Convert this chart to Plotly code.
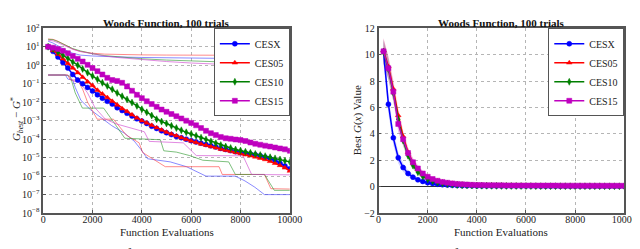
import plotly.graph_objects as go

# ---------------- data ----------------
evals = [200, 400, 600, 800, 1000, 1200, 1400, 1600, 1800, 2000,
         2200, 2400, 2600, 2800, 3000, 3200, 3400, 3600, 3800, 4000,
         4200, 4400, 4600, 4800, 5000, 5200, 5400, 5600, 5800, 6000,
         6200, 6400, 6600, 6800, 7000, 7200, 7400, 7600, 7800, 8000,
         8200, 8400, 8600, 8800, 9000, 9200, 9400, 9600, 9800, 10000]

series_names = ["CESX", "CES05", "CES10", "CES15"]

# Left panel: median of G_best - G* (log10 exponents)
cesx_median_log10 = [1.0, 0.75, 0.45, 0.15, -0.15, -0.5, -0.8, -1.0, -1.2, -1.4,
                     -1.6, -1.78, -1.95, -2.1, -2.3, -2.45, -2.6, -2.75, -2.9, -3.02,
                     -3.15, -3.3, -3.42, -3.55, -3.65, -3.75, -3.85, -3.92, -4.0, -4.08,
                     -4.15, -4.22, -4.29, -4.36, -4.42, -4.5, -4.56, -4.62, -4.68, -4.72,
                     -4.76, -4.8, -4.85, -4.9, -4.98, -5.05, -5.15, -5.3, -5.45, -5.6]
ces05_median_log10 = [1.0, 0.8, 0.6, 0.35, 0.1, -0.15, -0.4, -0.65, -0.9, -1.1,
                      -1.35, -1.55, -1.75, -1.95, -2.15, -2.35, -2.5, -2.68, -2.85, -3.0,
                      -3.12, -3.25, -3.38, -3.5, -3.62, -3.72, -3.82, -3.92, -4.02, -4.1,
                      -4.18, -4.26, -4.33, -4.4, -4.47, -4.54, -4.6, -4.66, -4.72, -4.78,
                      -4.84, -4.9, -4.96, -5.03, -5.1, -5.2, -5.3, -5.42, -5.55, -5.72]
ces10_median_log10 = [1.0, 0.88, 0.72, 0.55, 0.38, 0.18, 0.0, -0.2, -0.4, -0.58,
                      -0.76, -0.95, -1.12, -1.3, -1.5, -1.68, -1.85, -2.02, -2.2, -2.38,
                      -2.55, -2.72, -2.92, -3.05, -3.15, -3.28, -3.4, -3.52, -3.63, -3.72,
                      -3.82, -3.92, -4.02, -4.12, -4.22, -4.32, -4.4, -4.48, -4.56, -4.62,
                      -4.68, -4.74, -4.8, -4.86, -4.92, -4.98, -5.04, -5.1, -5.17, -5.23]
ces15_median_log10 = [1.0, 0.95, 0.88, 0.78, 0.65, 0.5, 0.35, 0.2, 0.02, -0.15,
                      -0.32, -0.5, -0.68, -0.8, -0.85, -0.95, -1.15, -1.38, -1.6, -1.78,
                      -1.95, -2.1, -2.25, -2.4, -2.52, -2.64, -2.76, -2.88, -3.0, -3.12,
                      -3.25, -3.4, -3.55, -3.68, -3.78, -3.88, -3.95, -3.98, -4.02, -4.05,
                      -4.1, -4.18, -4.25, -4.3, -4.35, -4.4, -4.45, -4.5, -4.55, -4.63]

# Left panel: worst trials (log10 exponents)
worst_evals = [200, 400, 600, 800, 1000, 1200, 1500, 2000, 2500, 3000, 4000, 5000, 6000, 7000, 8000, 9000, 10000]
cesx_worst_log10 = [1.3, 1.2, 1.05, 0.9, 0.75, 0.65, 0.55, 0.5, 0.47, 0.45, 0.42, 0.4, 0.38, 0.36, 0.35, 0.34, 0.33]
ces05_worst_log10 = [1.42, 1.4, 1.3, 1.15, 1.0, 0.88, 0.75, 0.65, 0.6, 0.58, 0.56, 0.55, 0.55, 0.54, 0.54, 0.53, 0.53]
ces10_worst_log10 = [1.4, 1.38, 1.28, 1.15, 1.02, 0.9, 0.78, 0.62, 0.52, 0.45, 0.35, 0.28, 0.22, 0.19, 0.17, 0.15, 0.14]
ces15_worst_log10 = [1.35, 1.32, 1.22, 1.1, 0.98, 0.86, 0.74, 0.6, 0.5, 0.42, 0.3, 0.2, 0.12, 0.05, 0.0, -0.05, -0.1]

# Left panel: best trials (log10 exponents)
cesx_best_evals = [200, 900, 1000, 1200, 1300, 1530, 1920, 2520, 2780, 3310, 3700, 3960, 4230, 5150, 5810, 6600, 7790, 8180, 8580, 8970, 10000]
cesx_best_log10 = [-0.53, -0.53, -0.75, -0.8, -1.2, -1.9, -2.41, -3.01, -3.27, -3.69, -4.12, -4.55, -5.06, -5.23, -5.49, -6.0, -6.0, -6.26, -6.6, -7.0, -7.0]
ces05_best_evals = [200, 1000, 1100, 1400, 1600, 1800, 2190, 2850, 3370, 3890, 4030, 4430, 4950, 7130, 7260, 8970, 9230, 10000]
ces05_best_log10 = [-0.53, -0.53, -0.8, -0.8, -1.3, -2.0, -2.92, -2.92, -3.78, -4.2, -4.72, -5.06, -5.49, -5.49, -5.91, -5.91, -6.68, -6.7]
ces10_best_evals = [200, 900, 1100, 1300, 1590, 2450, 2910, 3310, 4750, 4890, 5400, 5940, 6470, 7520, 7790, 8970, 9370, 10000]
ces10_best_log10 = [-0.53, -0.53, -0.6, -1.5, -2.32, -2.32, -3.18, -3.95, -4.03, -4.63, -4.7, -4.89, -5.14, -5.23, -5.91, -5.91, -6.77, -6.77]
ces15_best_evals = [200, 1000, 1200, 1500, 1800, 2100, 2520, 2980, 4100, 4300, 5680, 6210, 8100, 8450, 10000]
ces15_best_log10 = [-0.53, -0.53, -0.85, -0.95, -1.5, -2.3, -2.92, -3.18, -3.6, -4.12, -4.2, -4.89, -4.9, -5.91, -5.93]

# Right panel: mean best G(x)
cesx_mean = [10.25, 6.25, 3.7, 2.2, 1.45, 1.0, 0.72, 0.52, 0.4, 0.3,
             0.24, 0.19, 0.15, 0.12, 0.1, 0.09, 0.08, 0.07, 0.065, 0.06,
             0.058, 0.056, 0.054, 0.052, 0.05, 0.049, 0.048, 0.047, 0.046, 0.045,
             0.044, 0.043, 0.042, 0.041, 0.04, 0.04, 0.039, 0.038, 0.038, 0.037,
             0.036, 0.036, 0.035, 0.035, 0.034, 0.034, 0.033, 0.033, 0.032, 0.032]
ces05_mean = [10.3, 9.1, 7.4, 5.4, 3.8, 2.6, 1.8, 1.3, 0.95, 0.72,
              0.55, 0.44, 0.36, 0.3, 0.26, 0.22, 0.19, 0.17, 0.15, 0.14,
              0.13, 0.125, 0.12, 0.115, 0.11, 0.108, 0.105, 0.102, 0.1, 0.098,
              0.096, 0.094, 0.092, 0.09, 0.089, 0.088, 0.087, 0.086, 0.085, 0.084,
              0.083, 0.082, 0.082, 0.081, 0.081, 0.08, 0.08, 0.08, 0.08, 0.08]
ces10_mean = [10.2, 8.9, 7.1, 5.1, 3.5, 2.35, 1.6, 1.1, 0.78, 0.56,
              0.42, 0.32, 0.25, 0.2, 0.16, 0.13, 0.11, 0.1, 0.09, 0.08,
              0.075, 0.07, 0.066, 0.062, 0.058, 0.055, 0.052, 0.05, 0.048, 0.046,
              0.044, 0.042, 0.041, 0.04, 0.039, 0.038, 0.037, 0.036, 0.035, 0.034,
              0.034, 0.033, 0.033, 0.032, 0.032, 0.031, 0.031, 0.03, 0.03, 0.03]
ces15_mean = [10.25, 8.97, 7.2, 4.75, 3.6, 2.55, 1.85, 1.38, 1.0, 0.75,
              0.58, 0.45, 0.36, 0.3, 0.25, 0.21, 0.18, 0.16, 0.14, 0.13,
              0.12, 0.115, 0.11, 0.105, 0.1, 0.098, 0.095, 0.093, 0.09, 0.088,
              0.086, 0.085, 0.084, 0.083, 0.082, 0.081, 0.08, 0.079, 0.078, 0.077,
              0.076, 0.075, 0.075, 0.074, 0.073, 0.072, 0.072, 0.071, 0.07, 0.07]
# Right panel: half-width of the shaded band
cesx_spread = [0.9, 0.7, 0.55, 0.42, 0.32, 0.25, 0.2, 0.16, 0.13, 0.11,
               0.09, 0.08, 0.07, 0.06, 0.05, 0.05, 0.045, 0.04, 0.04, 0.04,
               0.035, 0.035, 0.035, 0.03, 0.03, 0.03, 0.03, 0.03, 0.03, 0.03,
               0.03, 0.03, 0.03, 0.03, 0.03, 0.03, 0.03, 0.03, 0.03, 0.03,
               0.03, 0.03, 0.03, 0.03, 0.03, 0.03, 0.03, 0.03, 0.03, 0.03]
ces05_spread = [0.95, 0.8, 0.68, 0.56, 0.45, 0.36, 0.29, 0.23, 0.19, 0.16,
                0.13, 0.11, 0.1, 0.09, 0.08, 0.07, 0.065, 0.06, 0.055, 0.05,
                0.05, 0.05, 0.045, 0.045, 0.045, 0.04, 0.04, 0.04, 0.04, 0.04,
                0.04, 0.04, 0.04, 0.04, 0.04, 0.04, 0.04, 0.04, 0.04, 0.04,
                0.04, 0.04, 0.04, 0.04, 0.04, 0.04, 0.04, 0.04, 0.04, 0.04]
ces10_spread = [0.9, 0.78, 0.65, 0.52, 0.42, 0.33, 0.26, 0.2, 0.16, 0.13,
                0.11, 0.09, 0.08, 0.07, 0.06, 0.055, 0.05, 0.045, 0.04, 0.04,
                0.035, 0.035, 0.035, 0.03, 0.03, 0.03, 0.03, 0.03, 0.03, 0.03,
                0.03, 0.03, 0.03, 0.03, 0.03, 0.03, 0.03, 0.03, 0.03, 0.03,
                0.03, 0.03, 0.03, 0.03, 0.03, 0.03, 0.03, 0.03, 0.03, 0.03]
ces15_spread = [1.0, 0.85, 0.72, 0.6, 0.5, 0.4, 0.32, 0.26, 0.21, 0.17,
                0.14, 0.12, 0.1, 0.09, 0.08, 0.075, 0.07, 0.065, 0.06, 0.055,
                0.05, 0.05, 0.05, 0.05, 0.045, 0.045, 0.045, 0.045, 0.045, 0.045,
                0.045, 0.045, 0.045, 0.045, 0.045, 0.045, 0.045, 0.045, 0.045, 0.045,
                0.045, 0.045, 0.045, 0.045, 0.045, 0.045, 0.045, 0.045, 0.045, 0.045]

x_ticks = [0, 2000, 4000, 6000, 8000, 10000]
x_tick_labels = ["0", "2000", "4000", "6000", "8000", "10000"]
left_y_exponents = [2, 1, 0, -1, -2, -3, -4, -5, -6, -7, -8]
right_y_ticks = [-2, 0, 2, 4, 6, 8, 10, 12]

panel_title = "Woods Function, 100 trials"
x_title = "Function Evaluations"
caption_a = "a. Median performance, single Gaussian"
caption_b = "b. Mean performance, single Gaussian"

# ---------------- style ----------------
W, H = 640, 249
FONT = "Liberation Serif"
colors = {"CESX": "#0000ff", "CES05": "#ff0000", "CES10": "#007f00", "CES15": "#bf00bf"}
light = {"CESX": "rgba(60,60,255,0.6)", "CES05": "rgba(255,60,60,0.6)",
         "CES10": "rgba(40,150,40,0.6)", "CES15": "rgba(205,60,205,0.6)"}
band = {"CESX": "rgba(80,80,255,0.25)", "CES05": "rgba(255,90,90,0.25)",
        "CES10": "rgba(40,150,40,0.25)", "CES15": "rgba(191,0,191,0.25)"}
symbols = {"CESX": "circle", "CES05": "triangle-up", "CES10": "diamond-tall", "CES15": "square"}

def px_x(p):
    return p / W

def px_y(p):
    return (H - p) / H

L_X0, L_X1 = 33, 286
R_X0, R_X1 = 377, 629
Y_TOP, Y_BOT = 14, 209

pow10 = lambda arr: [10 ** v for v in arr]

medians = {"CESX": cesx_median_log10, "CES05": ces05_median_log10,
           "CES10": ces10_median_log10, "CES15": ces15_median_log10}
worst = {"CESX": cesx_worst_log10, "CES05": ces05_worst_log10,
         "CES10": ces10_worst_log10, "CES15": ces15_worst_log10}
best = {"CESX": (cesx_best_evals, cesx_best_log10), "CES05": (ces05_best_evals, ces05_best_log10),
        "CES10": (ces10_best_evals, ces10_best_log10), "CES15": (ces15_best_evals, ces15_best_log10)}
means = {"CESX": cesx_mean, "CES05": ces05_mean, "CES10": ces10_mean, "CES15": ces15_mean}
spreads = {"CESX": cesx_spread, "CES05": ces05_spread, "CES10": ces10_spread, "CES15": ces15_spread}

fig = go.Figure()

# Left: thin best / worst lines
for n in series_names:
    fig.add_trace(go.Scatter(x=worst_evals, y=pow10(worst[n]), mode="lines",
                             line=dict(color=light[n], width=1), showlegend=False,
                             xaxis="x", yaxis="y", hoverinfo="skip"))
    bx, by = best[n]
    fig.add_trace(go.Scatter(x=bx, y=pow10(by), mode="lines",
                             line=dict(color=light[n], width=1), showlegend=False,
                             xaxis="x", yaxis="y", hoverinfo="skip"))
# Left: medians
for n in series_names:
    fig.add_trace(go.Scatter(x=evals, y=pow10(medians[n]), mode="lines+markers", name=n,
                             line=dict(color=colors[n], width=1.5),
                             marker=dict(symbol=symbols[n], size=5, color=colors[n],
                                         line=dict(width=0.5, color=colors[n])),
                             xaxis="x", yaxis="y", legend="legend"))

# Right: bands
for n in series_names:
    upper = [m + s for m, s in zip(means[n], spreads[n])]
    lower = [m - s for m, s in zip(means[n], spreads[n])]
    fig.add_trace(go.Scatter(x=evals, y=upper, mode="lines", line=dict(width=0),
                             showlegend=False, xaxis="x2", yaxis="y2", hoverinfo="skip"))
    fig.add_trace(go.Scatter(x=evals, y=lower, mode="lines", line=dict(width=0),
                             fill="tonexty", fillcolor=band[n],
                             showlegend=False, xaxis="x2", yaxis="y2", hoverinfo="skip"))
# Right: means
for n in series_names:
    fig.add_trace(go.Scatter(x=evals, y=means[n], mode="lines+markers", name=n,
                             line=dict(color=colors[n], width=1.5),
                             marker=dict(symbol=symbols[n], size=5, color=colors[n],
                                         line=dict(width=0.5, color=colors[n])),
                             xaxis="x2", yaxis="y2", legend="legend2"))

axis_common = dict(showline=True, mirror=True, linecolor="#555555", linewidth=1.5,
                   showgrid=True, gridcolor="#b5b5b5", griddash="dot", gridwidth=1,
                   ticks="inside", ticklen=3, tickcolor="#555555",
                   tickfont=dict(family=FONT, size=10, color="#222222"), zeroline=False)
x_extra = dict(ticklabelstandoff=-4)

legend_common = dict(bgcolor="white", bordercolor="#555555", borderwidth=1,
                     font=dict(family=FONT, size=10, color="#222222"),
                     itemwidth=30, tracegroupgap=0, traceorder="normal")

fig.update_layout(
    width=W, height=H, margin=dict(l=0, r=0, t=0, b=0),
    paper_bgcolor="white", plot_bgcolor="white",
    font=dict(family=FONT, color="#222222"),
    xaxis=dict(domain=[px_x(L_X0), px_x(L_X1)], range=[0, 10000], tickvals=x_ticks,
               ticktext=x_tick_labels, anchor="y", **axis_common, **x_extra),
    yaxis=dict(domain=[px_y(Y_BOT), px_y(Y_TOP)], type="log", range=[-8, 2],
               tickvals=[10 ** e for e in left_y_exponents],
               ticktext=["10<sup>%s</sup>" % (str(e).replace("-", "\u2212")) for e in left_y_exponents],
               anchor="x", **axis_common),
    xaxis2=dict(domain=[px_x(R_X0), px_x(R_X1)], range=[0, 10000], tickvals=x_ticks,
                ticktext=x_tick_labels, anchor="y2", **axis_common, **x_extra),
    yaxis2=dict(domain=[px_y(Y_BOT), px_y(Y_TOP)], range=[-2, 12], tickvals=right_y_ticks,
                ticktext=[str(v).replace("-", "\u2212") for v in right_y_ticks],
                anchor="x2", **{**axis_common, "zeroline": True}, zerolinecolor="#333333",
                zerolinewidth=1.2),
    legend=dict(x=px_x(L_X1), xanchor="right", y=px_y(Y_TOP), yanchor="top", **legend_common),
    legend2=dict(x=px_x(R_X1), xanchor="right", y=px_y(Y_TOP), yanchor="top", **legend_common),
)

ann = []
for cx in [(L_X0 + L_X1) / 2, (R_X0 + R_X1) / 2]:
    ann.append(dict(text="<b>%s</b>" % panel_title, x=px_x(cx), y=1.0, xref="paper", yref="paper",
                    xanchor="center", yanchor="top", showarrow=False,
                    font=dict(family=FONT, size=11, color="#111111")))
    ann.append(dict(text=x_title, x=px_x(cx), y=px_y(229), xref="paper", yref="paper",
                    xanchor="center", yanchor="middle", showarrow=False,
                    font=dict(family=FONT, size=11, color="#222222")))
ann.append(dict(text="<i>G</i><sub><i>best</i></sub> \u2212 <i>G</i><sup>*</sup>",
                x=px_x(6), y=px_y(110), xref="paper", yref="paper", textangle=-90,
                xanchor="center", yanchor="middle", showarrow=False,
                font=dict(family=FONT, size=11, color="#222222")))
ann.append(dict(text="Best <i>G</i>(<i>x</i>) Value",
                x=px_x(355), y=px_y(111), xref="paper", yref="paper", textangle=-90,
                xanchor="center", yanchor="middle", showarrow=False,
                font=dict(family=FONT, size=11, color="#222222")))
ann.append(dict(text=caption_a, x=px_x(157), y=px_y(242), xref="paper", yref="paper",
                xanchor="center", yanchor="top", showarrow=False,
                font=dict(family=FONT, size=15, color="#111111")))
ann.append(dict(text=caption_b, x=px_x(498), y=px_y(242), xref="paper", yref="paper",
                xanchor="center", yanchor="top", showarrow=False,
                font=dict(family=FONT, size=15, color="#111111")))
fig.update_layout(annotations=ann)

fig.write_html("out.html")
